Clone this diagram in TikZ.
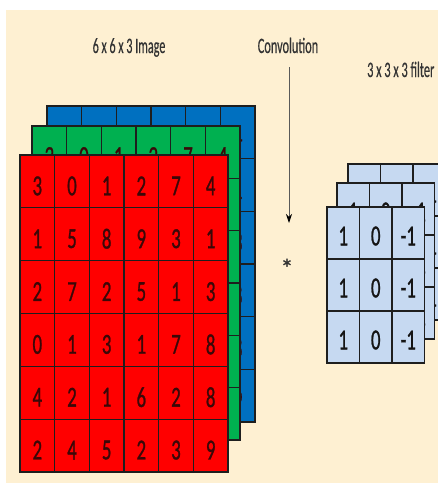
\documentclass[tikz,border=0pt]{standalone}
\usepackage{fontspec}
\setmainfont{Carlito}
\newfontfamily\digfont[FakeBold=1.2]{Carlito}
\newfontfamily\labfont[FakeBold=0.6]{Carlito}
\usetikzlibrary{arrows.meta}
\definecolor{bgc}{HTML}{FEF0D2}
\definecolor{linec}{HTML}{1E1E1E}
\definecolor{digc}{HTML}{3A0808}
\definecolor{fdigc}{HTML}{151515}
\definecolor{labc}{HTML}{333333}
\definecolor{redc}{HTML}{FF0000}
\definecolor{greenc}{HTML}{00B050}
\definecolor{bluec}{HTML}{0070C0}
\definecolor{filtc}{HTML}{C6D9F1}
% #1 name, #2 x0, #3 y0, #4 row height, #5 fill
\newcommand{\imggrid}[5]{%
  \fill[#5] (#2,#3) rectangle ++(208,{6*#4});
  \foreach \row [count=\r from 0] in {{3,0,1,2,7,4},{1,5,8,9,3,1},{2,7,2,5,1,3},{0,1,3,1,7,8},{4,2,1,6,2,8},{2,4,5,2,3,9}} {
    \foreach \v [count=\c from 0] in \row {
      \node[dig] (#1-\r-\c) at ({#2+34.667*\c+17.333},{#3+#4*\r+#4/2+4.5}) {\scalebox{0.65}[1]{\v}};
    }
  }
  \foreach \i in {1,...,5} {
    \draw[cellline] ({#2+34.667*\i},#3) -- ++(0,{6*#4});
    \draw[cellline] (#2,{#3+#4*\i}) -- ++(208,0);
  }
  \draw[cellline] (#2,#3) rectangle ++(208,{6*#4});
}
% #1 name, #2 x0, #3 y0
\newcommand{\filtgrid}[3]{%
  \fill[filtc] (#2,#3) rectangle ++(97.5,156);
  \foreach \r in {0,1,2} {
    \foreach \v [count=\c from 0] in {1,0,-1} {
      \node[dig, text=fdigc] (#1-\r-\c) at ({#2+32.5*\c+16.25},{#3+52*\r+26+3}) {\scalebox{0.65}[1]{\v}};
    }
  }
  \foreach \i in {1,2} {
    \draw[cellline] ({#2+32.5*\i},#3) -- ++(0,156);
    \draw[cellline] (#2,{#3+52*\i}) -- ++(97.5,0);
  }
  \draw[cellline] (#2,#3) rectangle ++(97.5,156);
}
\begin{document}
\begin{tikzpicture}[x=1pt,y=-1pt,
  cellline/.style={draw=linec, line width=1.1pt},
  dig/.style={inner sep=0pt, font=\digfont\fontsize{29}{29}\selectfont, text=digc},
  lab/.style={inner sep=0pt, font=\labfont\fontsize{22}{22}\selectfont, text=labc}]
\useasboundingbox (0,0) rectangle (438,483);
\clip (0,0) rectangle (438,483);
\fill[white] (0,0) rectangle (438,483);
\fill[bgc] (6,10) rectangle (438,483);
% image layers
\imggrid{blue}{47}{106}{52.67}{bluec}
\imggrid{green}{32}{126}{52.33}{greenc}
\imggrid{red}{20}{155}{52.83}{redc}
% filter layers
\filtgrid{fback}{348}{164}
\filtgrid{fmid}{337}{183}
\filtgrid{ffront}{327}{207}
% labels
\node[lab, anchor=base] (imglabel) at (129,53) {\scalebox{0.55}[1]{6 x 6 x 3 Image}};
\node[lab, anchor=base] (convlabel) at (288,53) {\scalebox{0.56}[1]{Convolution}};
\node[lab, anchor=base west] (filterlabel) at (367,77) {\scalebox{0.56}[1]{3 x 3 x 3 filter}};
% arrow and operator
\coordinate (arrstart) at (289,67);
\coordinate (arrend) at (289,223);
\draw[draw=gray!70!black, line width=0.9pt, -{Stealth[length=9pt,width=6pt,color=black]}] (arrstart) -- (arrend);
\node[inner sep=0pt, font=\labfont\fontsize{26}{26}\selectfont, text=labc] (star) at (287,268) {*};
\end{tikzpicture}
\end{document}
